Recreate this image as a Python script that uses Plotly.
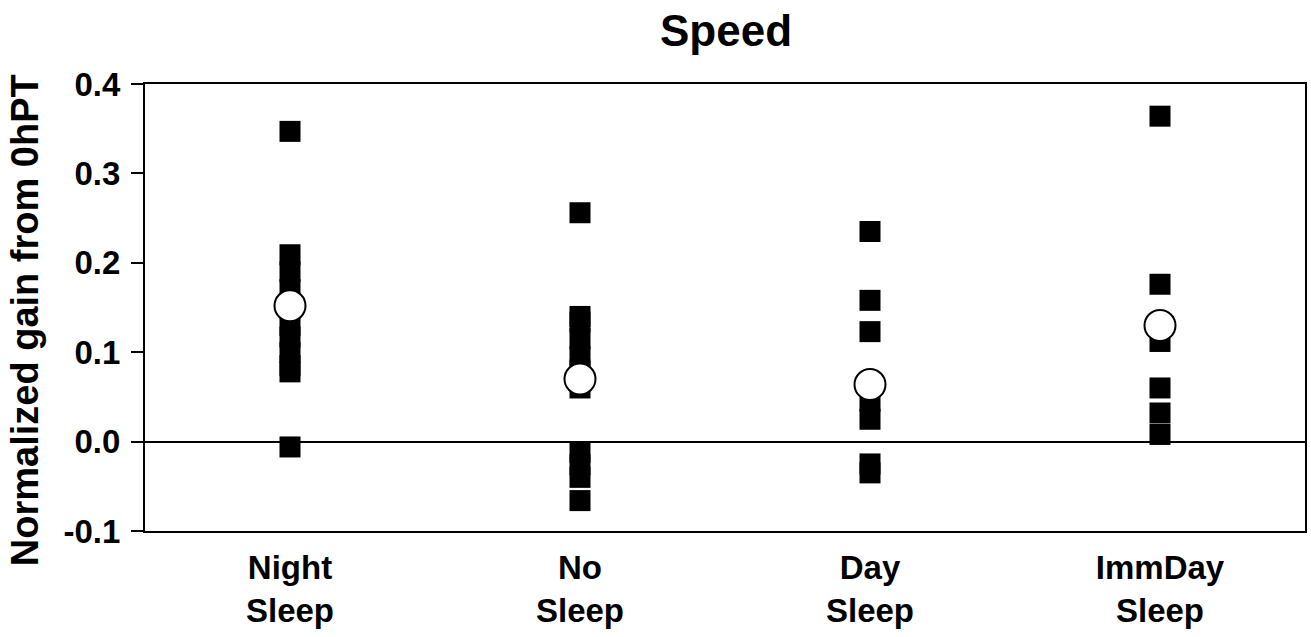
import plotly.graph_objects as go

categories = ["Night<br>Sleep", "No<br>Sleep", "Day<br>Sleep", "ImmDay<br>Sleep"]

night_sleep = [0.347, 0.209, 0.19, 0.17, 0.15, 0.13, 0.117, 0.10, 0.085, 0.078, -0.006]
no_sleep = [0.256, 0.14, 0.134, 0.115, 0.095, 0.08, 0.06, -0.012, -0.026, -0.04, -0.066]
day_sleep = [0.235, 0.158, 0.123, 0.045, 0.025, -0.025, -0.035]
immday_sleep = [0.364, 0.176, 0.112, 0.060, 0.032, 0.008]

means = [0.152, 0.070, 0.064, 0.130]

y_tick_vals = [-0.1, 0.0, 0.1, 0.2, 0.3, 0.4]
y_tick_text = ["-0.1", "0.0", "0.1", "0.2", "0.3", "0.4"]

groups = [night_sleep, no_sleep, day_sleep, immday_sleep]

FONT = "Liberation Sans, Arial, Helvetica, sans-serif"

fig = go.Figure()

xs, ys = [], []
for cat, vals in zip(categories, groups):
    xs += [cat] * len(vals)
    ys += vals

fig.add_trace(go.Scatter(
    x=xs, y=ys, mode="markers",
    marker=dict(symbol="square", size=21, color="black",
                line=dict(color="white", width=0)),
    showlegend=False, hoverinfo="y",
))

fig.add_trace(go.Scatter(
    x=categories, y=means, mode="markers",
    marker=dict(symbol="circle", size=31, color="white",
                line=dict(color="black", width=2)),
    showlegend=False, hoverinfo="y",
))

fig.update_layout(
    width=1311, height=637,
    margin=dict(l=145, r=4, t=84, b=106),
    paper_bgcolor="white", plot_bgcolor="white",
    title=dict(text="<b>Speed</b>", x=(145 + 1307) / 2 / 1311, xanchor="center",
               y=1 - 31 / 637, yanchor="middle", yref="container",
               font=dict(family=FONT, size=44, color="black")),
    font=dict(family=FONT, color="black"),
    annotations=[dict(
        text="<b>Normalized gain from 0hPT</b>", textangle=-90,
        xref="paper", x=-120 / 1162, xanchor="center",
        yref="paper", y=(531 - 320) / 447, yanchor="middle",
        showarrow=False,
        font=dict(family=FONT, size=38, color="black"),
    )],
)

fig.update_xaxes(
    type="category", categoryorder="array", categoryarray=categories,
    range=[-0.5, 3.5],
    showline=True, linecolor="black", linewidth=2, mirror=True,
    showgrid=False, ticks="",
    ticklabelstandoff=6,
    tickfont=dict(family=FONT, size=33, color="black", weight="bold"),
)

fig.update_yaxes(
    range=[-0.1, 0.4], tickvals=y_tick_vals, ticktext=y_tick_text,
    showline=True, linecolor="black", linewidth=2, mirror=True,
    showgrid=False,
    zeroline=True, zerolinecolor="black", zerolinewidth=1.5,
    ticks="outside", ticklen=12, tickwidth=1.5, tickcolor="black",
    ticklabelstandoff=4,
    tickfont=dict(family=FONT, size=33, color="black", weight="bold"),
)

fig.write_html("out.html")
